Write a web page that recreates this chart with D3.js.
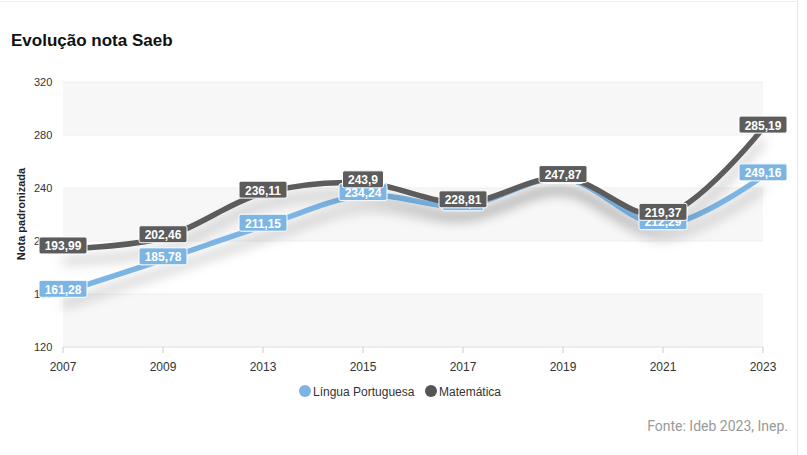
<!DOCTYPE html>
<html>
<head>
<meta charset="utf-8">
<script src="https://cdn.jsdelivr.net/npm/d3@7"></script>
<style>
body { margin: 0; background: #fff; font-family: "Liberation Sans", Arial, sans-serif; }
</style>
</head>
<body>
<svg id="chart" width="807" height="455"></svg>
<script>
const years = ['2007', '2009', '2013', '2015', '2017', '2019', '2021', '2023'];
const portugues = [161.28, 185.78, 211.15, 234.24, 226.6, 247.2, 212.29, 249.16];
const matematica = [193.99, 202.46, 236.11, 243.9, 228.81, 247.87, 219.37, 285.19];
const yTicks = [120, 160, 200, 240, 280, 320];

const svg = d3.select('#chart');
const x = d3.scalePoint().domain(years).range([63, 763]);
const y = d3.scaleLinear().domain([120, 320]).range([347, 82]);

// frame
svg.append('line').attr('x1', 0).attr('x2', 797).attr('y1', 1.5).attr('y2', 1.5).attr('stroke', '#eee');
svg.append('line').attr('x1', 797.5).attr('x2', 797.5).attr('y1', 0).attr('y2', 455).attr('stroke', '#e6e6e6');

svg.append('text').attr('x', 11).attr('y', 46)
    .attr('font-size', 17).attr('font-weight', 'bold').attr('fill', '#111')
    .text('Evolução nota Saeb');

// bands
for (let i = 0; i < yTicks.length - 1; i++) {
    svg.append('rect')
        .attr('x', 63).attr('width', 700)
        .attr('y', y(yTicks[i + 1])).attr('height', y(yTicks[i]) - y(yTicks[i + 1]))
        .attr('fill', i % 2 == 0 ? '#f7f7f7' : '#fff');
}
yTicks.forEach((t) => {
    svg.append('line').attr('x1', 63).attr('x2', 763).attr('y1', y(t)).attr('y2', y(t))
        .attr('stroke', t == 120 ? '#ddd' : '#efefef');
    svg.append('text').attr('x', 34).attr('y', y(t) + 4).attr('font-size', 11)
        .attr('fill', '#333').text(t);
});
years.forEach((yr) => {
    svg.append('line').attr('x1', x(yr)).attr('x2', x(yr)).attr('y1', 347).attr('y2', 353).attr('stroke', '#ccc');
    svg.append('text').attr('x', x(yr)).attr('y', 371).attr('text-anchor', 'middle')
        .attr('font-size', 12).attr('fill', '#333').text(yr);
});
svg.append('text').attr('transform', 'translate(25,214) rotate(-90)')
    .attr('text-anchor', 'middle').attr('font-size', 11).attr('font-weight', 'bold')
    .attr('fill', '#222').text('Nota padronizada');

const defs = svg.append('defs');
defs.append('filter').attr('id', 'shadow').attr('x', '-10%').attr('y', '-50%').attr('width', '120%').attr('height', '200%')
    .append('feDropShadow').attr('dx', 0).attr('dy', 12).attr('stdDeviation', 6)
    .attr('flood-color', '#000').attr('flood-opacity', 0.25);

const line = d3.line().x((d, i) => x(years[i])).y((d) => y(d)).curve(d3.curveCatmullRom.alpha(0.5));
const series = [
    { values: portugues, color: '#7cb5e4' },
    { values: matematica, color: '#5c5c5c' }
];
series.forEach((s) => {
    svg.append('path').attr('d', line(s.values)).attr('fill', 'none')
        .attr('stroke', s.color).attr('stroke-width', 5.5).attr('filter', 'url(#shadow)');
});
const fmt = (v) => String(v).replace('.', ',');
series.forEach((s) => {
    s.values.forEach((v, i) => {
        const g = svg.append('g').attr('transform', 'translate(' + x(years[i]) + ',' + (y(v) - 3) + ')');
        const txt = fmt(v);
        const w = txt.length * 7 + 6;
        g.append('rect').attr('x', -w / 2).attr('y', -9).attr('width', w).attr('height', 17)
            .attr('rx', 2).attr('fill', s.color).attr('stroke', '#fff').attr('stroke-width', 1);
        g.append('text').attr('text-anchor', 'middle').attr('y', 4.5)
            .attr('font-size', 12).attr('font-weight', 'bold').attr('fill', '#fff').text(txt);
    });
});

// legend
const legend = [['Língua Portuguesa', '#7cb5e4', 305], ['Matemática', '#555', 431]];
legend.forEach((l) => {
    svg.append('circle').attr('cx', l[2]).attr('cy', 391).attr('r', 6).attr('fill', l[1]);
    svg.append('text').attr('x', l[2] + 8).attr('y', 395.5).attr('font-size', 12)
        .attr('fill', '#333').text(l[0]);
});

svg.append('text').attr('x', 788).attr('y', 431).attr('text-anchor', 'end')
    .attr('font-family', 'Roboto, sans-serif').attr('font-size', 14).attr('fill', '#999')
    .text('Fonte: Ideb 2023, Inep.');
</script>
</body>
</html>
